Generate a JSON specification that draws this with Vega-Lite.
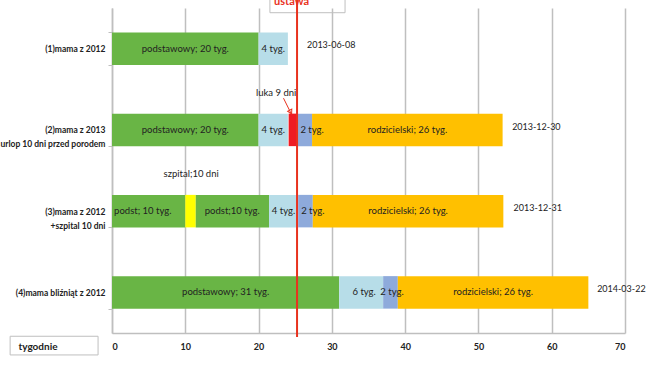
{
  "$schema": "https://vega.github.io/schema/vega-lite/v6.json",
  "width": 513,
  "height": 325,
  "autosize": "none",
  "padding": {"left": 112, "top": 8, "right": 25, "bottom": 32},
  "background": "white",
  "config": {
    "view": {"stroke": null},
    "font": "Lato",
    "axisX": {"grid": true, "gridColor": "#bfbfbf", "gridWidth": 1.5, "domainColor": "#bfbfbf", "domainWidth": 1.5, "ticks": false, "labelPadding": 9, "labelFontSize": 9, "labelFontWeight": "bold", "labelColor": "#222", "labelFont": "Lato", "titleFont": "Lato", "titleFontSize": 10, "titleFontWeight": "bold", "titleColor": "#222", "titleAnchor": "start", "titleAlign": "left", "titleBaseline": "middle", "titleX": -94, "titleY": 13},
    "axisY": {"grid": false, "domainColor": "#bfbfbf", "domainWidth": 1.5, "tickColor": "#bfbfbf", "tickSize": 4, "tickBand": "extent", "labelPadding": 3, "labelFontSize": 8.5, "labelFontWeight": "bold", "labelColor": "#222", "labelFont": "Lato", "labelLineHeight": 14, "labelAlign": "right"}
  },
  "resolve": {"scale": {"y": "independent"}, "axis": {"y": "independent"}},
  "layer": [
    {
      "layer": [
        {
          "data": {"values": [
            {"row": "(1)mama z 2012", "start": 0, "end": 20, "kind": "podst"},
            {"row": "(1)mama z 2012", "start": 20, "end": 24, "kind": "mac"},
            {"row": "(2)mama z 2013|urlop 10 dni przed porodem", "start": 0, "end": 20, "kind": "podst"},
            {"row": "(2)mama z 2013|urlop 10 dni przed porodem", "start": 20, "end": 24, "kind": "mac"},
            {"row": "(2)mama z 2013|urlop 10 dni przed porodem", "start": 24.1, "end": 25.3, "kind": "luka"},
            {"row": "(2)mama z 2013|urlop 10 dni przed porodem", "start": 25.3, "end": 27.3, "kind": "dod"},
            {"row": "(2)mama z 2013|urlop 10 dni przed porodem", "start": 27.3, "end": 53.3, "kind": "rodz"},
            {"row": "(3)mama z 2012|+szpital 10 dni", "start": 0, "end": 10, "kind": "podst"},
            {"row": "(3)mama z 2012|+szpital 10 dni", "start": 10, "end": 11.43, "kind": "szpital"},
            {"row": "(3)mama z 2012|+szpital 10 dni", "start": 11.43, "end": 21.43, "kind": "podst"},
            {"row": "(3)mama z 2012|+szpital 10 dni", "start": 21.43, "end": 25.4, "kind": "mac"},
            {"row": "(3)mama z 2012|+szpital 10 dni", "start": 25.4, "end": 27.4, "kind": "dod"},
            {"row": "(3)mama z 2012|+szpital 10 dni", "start": 27.4, "end": 53.4, "kind": "rodz"},
            {"row": "(4)mama bliźniąt z 2012", "start": 0, "end": 31, "kind": "podst"},
            {"row": "(4)mama bliźniąt z 2012", "start": 31, "end": 37, "kind": "mac"},
            {"row": "(4)mama bliźniąt z 2012", "start": 37, "end": 39, "kind": "dod"},
            {"row": "(4)mama bliźniąt z 2012", "start": 39, "end": 65, "kind": "rodz"}
          ]},
          "mark": {"type": "bar"},
          "encoding": {
            "x": {"field": "start", "type": "quantitative", "scale": {"domain": [0, 70], "nice": false, "zero": true}, "axis": {"values": [0, 10, 20, 30, 40, 50, 60, 70], "title": "tygodnie"}},
            "x2": {"field": "end"},
            "y": {"field": "row", "type": "nominal", "scale": {"domain": ["(1)mama z 2012", "(2)mama z 2013|urlop 10 dni przed porodem", "(3)mama z 2012|+szpital 10 dni", "(4)mama bliźniąt z 2012"], "paddingInner": 0.6, "paddingOuter": 0.3}, "axis": {"title": null, "labelExpr": "split(datum.label, '|')"}},
            "color": {"field": "kind", "type": "nominal", "legend": null, "scale": {"domain": ["podst", "mac", "luka", "dod", "rodz", "szpital"], "range": ["#69b545", "#b7dde8", "#ee1c24", "#8eaadb", "#ffc000", "#ffff00"]}}
          }
        },
        {
          "data": {"values": [
            {"row": "(1)mama z 2012", "x": 10, "t": "podstawowy; 20 tyg."},
            {"row": "(1)mama z 2012", "x": 22, "t": "4 tyg."},
            {"row": "(2)mama z 2013|urlop 10 dni przed porodem", "x": 10, "t": "podstawowy; 20 tyg."},
            {"row": "(2)mama z 2013|urlop 10 dni przed porodem", "x": 22, "t": "4 tyg."},
            {"row": "(2)mama z 2013|urlop 10 dni przed porodem", "x": 27.3, "t": "2 tyg."},
            {"row": "(2)mama z 2013|urlop 10 dni przed porodem", "x": 40.3, "t": "rodzicielski; 26 tyg."},
            {"row": "(3)mama z 2012|+szpital 10 dni", "x": 4.2, "t": "podst; 10 tyg."},
            {"row": "(3)mama z 2012|+szpital 10 dni", "x": 16.4, "t": "podst;10 tyg."},
            {"row": "(3)mama z 2012|+szpital 10 dni", "x": 23.4, "t": "4 tyg."},
            {"row": "(3)mama z 2012|+szpital 10 dni", "x": 27.4, "t": "2 tyg."},
            {"row": "(3)mama z 2012|+szpital 10 dni", "x": 40.4, "t": "rodzicielski; 26 tyg."},
            {"row": "(4)mama bliźniąt z 2012", "x": 15.5, "t": "podstawowy; 31 tyg."},
            {"row": "(4)mama bliźniąt z 2012", "x": 34.4, "t": "6 tyg."},
            {"row": "(4)mama bliźniąt z 2012", "x": 38.2, "t": "2 tyg."},
            {"row": "(4)mama bliźniąt z 2012", "x": 52, "t": "rodzicielski; 26 tyg."}
          ]},
          "mark": {"type": "text", "fontSize": 9.5, "color": "#222", "align": "center", "baseline": "middle"},
          "encoding": {
            "x": {"field": "x", "type": "quantitative"},
            "y": {"field": "row", "type": "nominal"},
            "text": {"field": "t"}
          }
        },
        {
          "data": {"values": [
            {"row": "(1)mama z 2012", "x": 26.6, "t": "2013-06-08"},
            {"row": "(2)mama z 2013|urlop 10 dni przed porodem", "x": 54.6, "t": "2013-12-30"},
            {"row": "(3)mama z 2012|+szpital 10 dni", "x": 54.8, "t": "2013-12-31"},
            {"row": "(4)mama bliźniąt z 2012", "x": 66.2, "t": "2014-03-22"}
          ]},
          "mark": {"type": "text", "fontSize": 9, "color": "#222", "align": "left", "baseline": "middle"},
          "encoding": {
            "x": {"field": "x", "type": "quantitative"},
            "y": {"field": "row", "type": "nominal", "bandPosition": 0.4},
            "text": {"field": "t"}
          }
        },
        {
          "data": {"values": [
            {"row": "(2)mama z 2013|urlop 10 dni przed porodem", "x": 22.4, "t": "luka 9 dni"},
            {"row": "(3)mama z 2012|+szpital 10 dni", "x": 10.8, "t": "szpital;10 dni"}
          ]},
          "mark": {"type": "text", "fontSize": 9.5, "color": "#222", "align": "center", "baseline": "middle"},
          "encoding": {
            "x": {"field": "x", "type": "quantitative"},
            "y": {"field": "row", "type": "nominal", "bandPosition": -0.63},
            "text": {"field": "t"}
          }
        },
        {
          "data": {"values": [{"row": "(1)mama z 2012", "x": 24.5, "t": "ustawa"}]},
          "mark": {"type": "text", "fontSize": 11, "fontWeight": "bold", "color": "#e8321e", "align": "center", "baseline": "alphabetic", "clip": false},
          "encoding": {
            "x": {"field": "x", "type": "quantitative"},
            "y": {"field": "row", "type": "nominal", "bandPosition": -0.85},
            "text": {"field": "t"}
          }
        }
      ]
    },
    {
      "layer": [
        {
          "data": {"values": [
            {"x": 21.55, "x2": 31.8, "r": -0.3, "r2": 0.058},
            {"x": -13.9, "x2": -1.9, "r": 4.04, "r2": 4.27}
          ]},
          "mark": {"type": "rect", "fill": null, "fillOpacity": 0, "stroke": "#bfbfbf", "strokeWidth": 1, "clip": false},
          "encoding": {
            "x": {"field": "x", "type": "quantitative"},
            "x2": {"field": "x2"},
            "y": {"field": "r", "type": "quantitative", "scale": {"domain": [0, 4], "reverse": true, "nice": false, "zero": false}, "axis": null},
            "y2": {"field": "r2"}
          }
        },
        {
          "data": {"values": [{"x": 25.25, "r": -0.1, "r2": 4.05}]},
          "mark": {"type": "rule", "color": "#e8321e", "strokeWidth": 2, "clip": false},
          "encoding": {
            "x": {"field": "x", "type": "quantitative"},
            "y": {"field": "r", "type": "quantitative"},
            "y2": {"field": "r2"}
          }
        },
        {
          "data": {"values": [
            {"x": 23.4, "r": 1.11},
            {"x": 24.45, "r": 1.3}
          ]},
          "mark": {"type": "line", "color": "#e8321e", "strokeWidth": 1},
          "encoding": {
            "x": {"field": "x", "type": "quantitative"},
            "y": {"field": "r", "type": "quantitative"}
          }
        },
        {
          "data": {"values": [{"x": 24.38, "r": 1.28}]},
          "mark": {"type": "point", "shape": "triangle-down", "angle": 332, "size": 22, "filled": false, "color": "#e8321e", "strokeWidth": 1, "opacity": 1},
          "encoding": {
            "x": {"field": "x", "type": "quantitative"},
            "y": {"field": "r", "type": "quantitative"}
          }
        }
      ]
    }
  ]
}
